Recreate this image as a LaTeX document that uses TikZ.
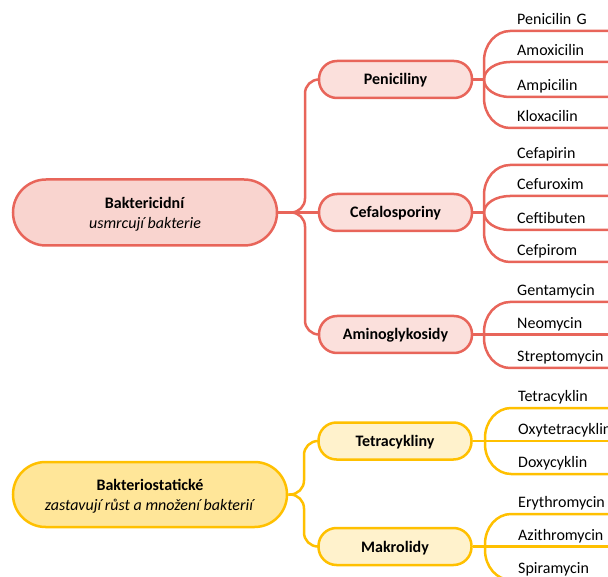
\documentclass[tikz,border=0pt]{standalone}
\usepackage{fontspec}
\setmainfont{Carlito}
\usetikzlibrary{calc}
\definecolor{redln}{HTML}{E8655A}
\definecolor{redroot}{HTML}{F9D4CF}
\definecolor{redkid}{HTML}{FBE0DC}
\definecolor{yelln}{HTML}{FFC000}
\definecolor{yelroot}{HTML}{FFE699}
\definecolor{yelkid}{HTML}{FFF2CC}
\begin{document}
\begin{tikzpicture}[x=1pt,y=-1pt,
  font=\fontsize{16}{20}\selectfont,
  rootbox/.style={draw, line width=2.5pt, align=center, inner sep=0pt},
  kidbox/.style={draw, line width=2.5pt, rounded corners=18pt, minimum width=153pt,
    minimum height=37pt, inner sep=0pt, text height=12pt, text depth=1pt,
    font=\fontsize{16}{20}\selectfont\bfseries},
  leaf/.style={anchor=south west, text width=150pt, align=left, inner xsep=7pt,
    inner ysep=3pt, text depth=3pt, text height=11pt},
  rline/.style={draw=redln, line width=2.5pt},
  yline/.style={draw=yelln, line width=2.5pt},
  leafedge/.style={to path={
    let \p1=(\tikztostart), \p2=(\tikztotarget),
        \n1={min(abs(\y2-\y1),30pt)}, \n2={sign(\y2-\y1)} in
    -- (\x1,{\y2-\n2*\n1})
    .. controls (\x1,{\y2-0.448*\n2*\n1}) and ({\x1+0.448*26pt},\y2)
    .. ({\x1+26pt},\y2) -- (\tikztotarget)}},
]
\useasboundingbox (0,0) rectangle (608,577);
\clip (0,0) rectangle (608,577);

% ---------- Baktericidní ----------
\node[rootbox, fill=redroot, draw=redln, minimum width=264pt, minimum height=66pt,
  rounded corners=33pt] (r1) at (145,212.5)
  {\raisebox{-2pt}[\height][\depth]{\begin{tabular}{@{}c@{}}\textbf{Baktericidní}\\\textit{usmrcují bakterie}\end{tabular}}};
\node[kidbox, fill=redkid, draw=redln] (peni) at (395.5,79.5) {Peniciliny};
\node[kidbox, fill=redkid, draw=redln] (cefa) at (395.5,212.5) {Cefalosporiny};
\node[kidbox, fill=redkid, draw=redln] (amino) at (395.5,334.5) {Aminoglykosidy};

\coordinate (s1) at (305,212.5);
\draw[rline, rounded corners=14pt] (r1.east) -- (s1) |- (peni.west);
\draw[rline, rounded corners=14pt] (r1.east) -- (s1) |- (amino.west);
\draw[rline] (r1.east) -- (cefa.west);

\coordinate (ps) at (484,79.5);
\coordinate (cs) at (484,212.5);
\coordinate (as) at (484,334.5);
\draw[rline] (peni.east) -- (ps);
\draw[rline] (cefa.east) -- (cs);
\draw[rline] (amino.east) -- (as);

\node[leaf] (p1) at (510,31) {Penicilin G};
\node[leaf] (p2) at (510,62) {Amoxicilin};
\node[leaf] (p3) at (510,97) {Ampicilin};
\node[leaf] (p4) at (510,128) {Kloxacilin};
\node[leaf] (c1) at (510,165) {Cefapirin};
\node[leaf] (c2) at (510,196) {Cefuroxim};
\node[leaf] (c3) at (510,230) {Ceftibuten};
\node[leaf] (c4) at (510,262) {Cefpirom};
\node[leaf] (a1) at (510,302) {Gentamycin};
\node[leaf] (a2) at (510,334.5) {Neomycin};
\node[leaf] (a3) at (510,368) {Streptomycin};

\foreach \l in {p1,p2,p3,p4}
  \draw[rline] (ps) to[leafedge] (\l.south west) -- (\l.south east);
\foreach \l in {c1,c2,c3,c4}
  \draw[rline] (cs) to[leafedge] (\l.south west) -- (\l.south east);
\foreach \l in {a1,a2,a3}
  \draw[rline] (as) to[leafedge] (\l.south west) -- (\l.south east);

% ---------- Bakteriostatické ----------
\node[rootbox, fill=yelroot, draw=yelln, minimum width=274pt, minimum height=65pt,
  rounded corners=32.5pt] (r2) at (150,494.5)
  {\raisebox{-2pt}[\height][\depth]{\begin{tabular}{@{}c@{}}\textbf{Bakteriostatické}\\\textit{zastavují růst a množení bakterií}\end{tabular}}};
\node[kidbox, fill=yelkid, draw=yelln] (tetra) at (395,441) {Tetracykliny};
\node[kidbox, fill=yelkid, draw=yelln] (makro) at (395,546.5) {Makrolidy};

\coordinate (s2) at (304,494.5);
\draw[yline, rounded corners=14pt] (r2.east) -- (s2) |- (tetra.west);
\draw[yline, rounded corners=14pt] (r2.east) -- (s2) |- (makro.west);

\coordinate (ts) at (485,441);
\coordinate (ms) at (485,546.5);
\draw[yline] (tetra.east) -- (ts);
\draw[yline] (makro.east) -- (ms);

\node[leaf] (t1) at (511,408) {Tetracyklin};
\node[leaf] (t2) at (511,441) {Oxytetracyklin};
\node[leaf] (t3) at (511,474) {Doxycyklin};
\node[leaf] (m1) at (511,514) {Erythromycin};
\node[leaf] (m2) at (511,546.5) {Azithromycin};
\node[leaf] (m3) at (511,580) {Spiramycin};

\foreach \l in {t1,t2,t3}
  \draw[yline] (ts) to[leafedge] (\l.south west) -- (\l.south east);
\foreach \l in {m1,m2,m3}
  \draw[yline] (ms) to[leafedge] (\l.south west) -- (\l.south east);
\end{tikzpicture}
\end{document}
